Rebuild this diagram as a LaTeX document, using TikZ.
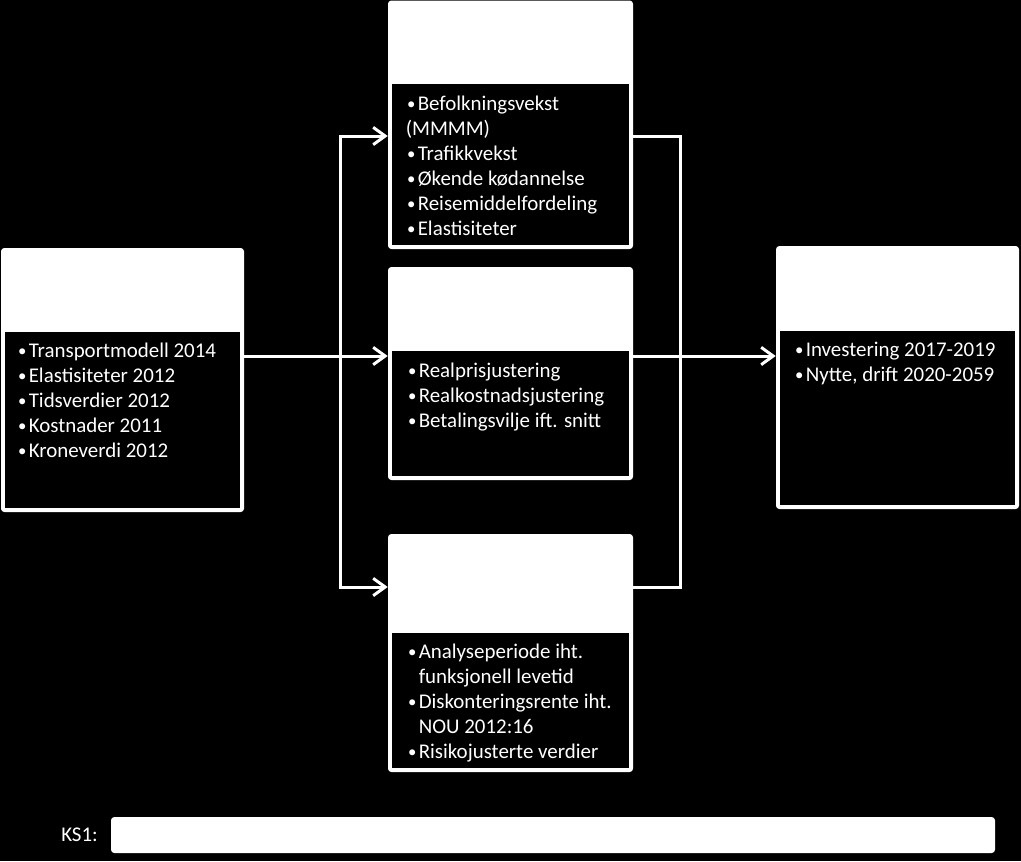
\documentclass[tikz,border=0pt]{standalone}
\usepackage{fontspec}
\usepackage{graphicx}
\setmainfont{Carlito}
\usetikzlibrary{arrows.meta,fit}

\newcommand{\bul}{\makebox[9pt][l]{\hspace{1pt}\raisebox{0.7pt}{\scalebox{0.8}{\textbullet}}}}
\newcommand{\hang}{\hspace*{9pt}}

\begin{document}
\begin{tikzpicture}[x=0.75pt,y=0.75pt,yscale=-1,xscale=1,
  panel/.style={fill=white, rounded corners=2.5pt, inner sep=0pt},
  pane/.style={fill=black, inner sep=0pt},
  list/.style={anchor=north west, inner sep=0pt, align=left, text=white, font=\fontsize{15.7}{18.75}\selectfont},
  link/.style={draw=white, line width=2.25pt, line cap=rect},
  flow/.style={link, -{Straight Barb[length=9pt,width=13pt]}}]
        % background, fixes the page size
        \fill [black] (0,0) rectangle (1021,861);
        \useasboundingbox (0,0) rectangle (1021,861);

        % Input box (left)
        \node [panel, fit={(1,248) (244,512)}] (input) {};
        \node [pane, fit={(5,332) (240,508)}] (inputpane) {};
        % Growth box (top)
        \node [panel, fit={(388,0.5) (633,249)}] (growth) {};
        \node [pane, fit={(392,84) (629,245)}] (growthpane) {};
        % Prices box (middle)
        \node [panel, fit={(388,267) (633,480)}] (prices) {};
        \node [pane, fit={(392,351) (629,476)}] (pricespane) {};
        % Period box (bottom)
        \node [panel, fit={(388,534) (633,772)}] (period) {};
        \node [pane, fit={(392,633) (629,768)}] (periodpane) {};
        % Result box (right)
        \node [panel, fit={(776,246) (1019,509)}] (result) {};
        \node [pane, fit={(780,331) (1015,505)}] (resultpane) {};
        % KS1 bar
        \node [panel, fit={(111,817) (995,853)}] (ksbar) {};

        % Junction points
        \coordinate (fork) at (340,356);
        \coordinate (forkT) at (340,136);
        \coordinate (forkB) at (340,587);
        \coordinate (join) at (680,356);
        \coordinate (joinT) at (680,136);
        \coordinate (joinB) at (680,587);

        % Connectors
        \draw [flow] (input.east |- fork) -- (prices.west |- fork);
        \draw [link] (forkT) -- (forkB);
        \draw [flow] (forkT) -- (growth.west |- forkT);
        \draw [flow] (forkB) -- (period.west |- forkB);
        \draw [link] (growth.east |- joinT) -- (joinT) -- (joinB) -- (period.east |- joinB);
        \draw [flow] (prices.east |- join) -- (result.west |- join);

        % Text Node
        \node [list] (inputtxt) at (16.5,339.5) {\strut\bul Transportmodell 2014\\ \bul Elastisiteter 2012\\ \bul Tidsverdier 2012\\ \bul Kostnader 2011\\ \bul Kroneverdi 2012};
        % Text Node
        \node [list] (growthtxt) at (405.5,92.5) {\strut\bul Befolkningsvekst\\ (MMMM)\\ \bul Trafikkvekst\\ \bul Økende kødannelse\\ \bul Reisemiddelfordeling\\ \bul Elastisiteter};
        % Text Node
        \node [list] (pricestxt) at (406.5,359.5) {\strut\bul Realprisjustering\\ \bul Realkostnadsjustering\\ \bul Betalingsvilje ift. snitt};
        % Text Node
        \node [list] (periodtxt) at (406.5,640.5) {\strut\bul Analyseperiode iht.\\ \hang funksjonell levetid\\ \bul Diskonteringsrente iht.\\ \hang NOU 2012:16\\ \bul Risikojusterte verdier};
        % Text Node
        \node [list] (resulttxt) at (793.5,338.5) {\strut\bul Investering 2017-2019\\ \bul Nytte, drift 2020-2059};
        % Text Node
        \node [list, anchor=base west] (kslabel) at (61,841) {KS1:};

\end{tikzpicture}
\end{document}
